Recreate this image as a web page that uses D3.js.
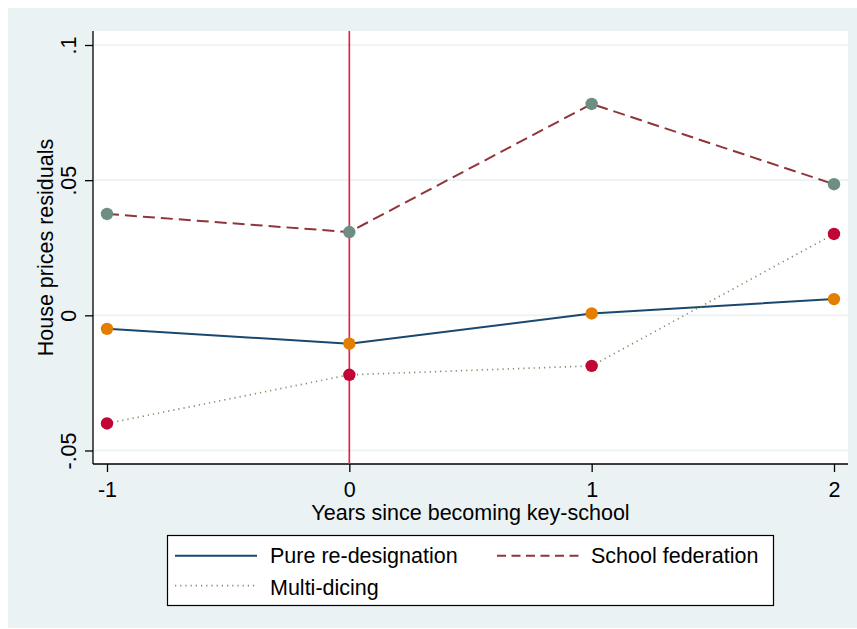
<!DOCTYPE html>
<html>
<head>
<meta charset="utf-8">
<script src="https://cdn.jsdelivr.net/npm/d3@7/dist/d3.min.js"></script>
<style>
  html, body { margin: 0; padding: 0; background: #fff; }
  svg { display: block; font-family: "Liberation Sans", Arial, sans-serif; }
</style>
</head>
<body>
<svg id="chart" width="857" height="629"></svg>
<script>
// Event-time axis
const years = [-1, 0, 1, 2];
const xTicks = [-1, 0, 1, 2];
const xTickLabels = ["-1", "0", "1", "2"];
const yTicks = [-0.05, 0, 0.05, 0.1];
const yTickLabels = ["-.05", "0", ".05", ".1"];

// House price residuals by designation type
const pureRedesignation = [-0.0050, -0.0105, 0.0007, 0.0060];
const schoolFederation = [0.0375, 0.0308, 0.0782, 0.0485];
const multiDicing = [-0.0400, -0.0220, -0.0187, 0.0301];

const seriesNames = ["Pure re-designation", "School federation", "Multi-dicing"];

const svg = d3.select("#chart");
const W = 857, H = 629;
const plot = { left: 93, top: 31, right: 848, bottom: 464 };
const FS = 21.5;

const x = d3.scaleLinear().domain([-1, 2]).range([107, 834]);
const y = d3.scaleLinear().domain([-0.05, 0.1]).range([450.5, 45]);

// Backgrounds
svg.append("rect").attr("width", W).attr("height", H).attr("fill", "#ffffff");
svg.append("rect").attr("x", 8).attr("y", 8).attr("width", W - 8).attr("height", 620).attr("fill", "#eaf2f3");
svg.append("rect").attr("x", plot.left).attr("y", plot.top)
  .attr("width", plot.right - plot.left).attr("height", plot.bottom - plot.top).attr("fill", "#ffffff");

// Horizontal grid
svg.append("g").selectAll("line").data(yTicks).join("line")
  .attr("x1", plot.left).attr("x2", plot.right)
  .attr("y1", d => y(d)).attr("y2", d => y(d))
  .attr("stroke", "#eaf2f3").attr("stroke-width", 1.6);

// Y axis
const yAxis = d3.axisLeft(y).tickValues(yTicks)
  .tickFormat((d, i) => yTickLabels[i]).tickSize(8).tickSizeOuter(0);
const gy = svg.append("g").attr("transform", `translate(${plot.left},0)`).call(yAxis);
gy.select(".domain").attr("d", `M0,${plot.top}V${plot.bottom}`).attr("stroke", "#000").attr("stroke-width", 1.3);
gy.selectAll(".tick line").attr("stroke", "#000").attr("stroke-width", 1.3);
gy.selectAll(".tick text")
  .attr("x", null).attr("dy", null)
  .attr("transform", "translate(-17,0) rotate(-90)")
  .attr("text-anchor", "middle")
  .attr("font-size", FS).attr("fill", "#000")
  .attr("font-family", "Liberation Sans, Arial, sans-serif");

// X axis
const xAxis = d3.axisBottom(x).tickValues(xTicks)
  .tickFormat((d, i) => xTickLabels[i]).tickSize(8).tickSizeOuter(0);
const gx = svg.append("g").attr("transform", `translate(0,${plot.bottom})`).call(xAxis);
gx.select(".domain").attr("d", `M${plot.left},0H${plot.right}`).attr("stroke", "#000").attr("stroke-width", 1.3);
gx.selectAll(".tick line").attr("stroke", "#000").attr("stroke-width", 1.3);
gx.selectAll(".tick text")
  .attr("y", 33).attr("dy", null)
  .attr("font-size", FS).attr("fill", "#000")
  .attr("font-family", "Liberation Sans, Arial, sans-serif");

// Axis titles
svg.append("text").attr("x", (plot.left + plot.right) / 2).attr("y", 519.5)
  .attr("text-anchor", "middle").attr("font-size", FS).text("Years since becoming key-school");
svg.append("text")
  .attr("transform", `translate(53,${(plot.top + plot.bottom) / 2}) rotate(-90)`)
  .attr("text-anchor", "middle").attr("font-size", FS).text("House prices residuals");

// Reference line at event year
svg.append("line")
  .attr("x1", x(0)).attr("x2", x(0)).attr("y1", plot.top).attr("y2", plot.bottom)
  .attr("stroke", "#d42a4f").attr("stroke-width", 1.7);

const line = d3.line().x((d, i) => x(years[i])).y(d => y(d));

const styles = [
  { data: pureRedesignation, stroke: "#1a476f", dash: null, width: 2, marker: "#e37e00" },
  { data: schoolFederation, stroke: "#90353b", dash: "12,6", width: 2, marker: "#6e8e84" },
  { data: multiDicing, stroke: "#7d9163", dash: "1.2,4", width: 1.7, marker: "#c10534" }
];

styles.forEach(s => {
  svg.append("path").datum(s.data)
    .attr("d", line).attr("fill", "none")
    .attr("stroke", s.stroke).attr("stroke-width", s.width)
    .attr("stroke-dasharray", s.dash);
});
styles.forEach(s => {
  svg.append("g").selectAll("circle").data(s.data).join("circle")
    .attr("cx", (d, i) => x(years[i])).attr("cy", d => y(d))
    .attr("r", 6.2).attr("fill", s.marker);
});

// Legend
const lg = svg.append("g");
lg.append("rect").attr("x", 167.5).attr("y", 535.5).attr("width", 606).attr("height", 70)
  .attr("fill", "#fff").attr("stroke", "#000").attr("stroke-width", 1.2);
const legendItems = [
  { name: seriesNames[0], s: styles[0], lx: 175, tx: 270, ly: 555.7, ty: 563, dash: null },
  { name: seriesNames[1], s: styles[1], lx: 497, tx: 591, ly: 555.7, ty: 563, dash: "9,5.5" },
  { name: seriesNames[2], s: styles[2], lx: 175, tx: 270, ly: 585.7, ty: 595, dash: "1.2,4" }
];
legendItems.forEach(it => {
  lg.append("line").attr("x1", it.lx).attr("x2", it.lx + 82)
    .attr("y1", it.ly).attr("y2", it.ly)
    .attr("stroke", it.s.stroke).attr("stroke-width", it.s.width)
    .attr("stroke-dasharray", it.dash);
  lg.append("text").attr("x", it.tx).attr("y", it.ty)
    .attr("font-size", FS).text(it.name);
});
</script>
</body>
</html>
